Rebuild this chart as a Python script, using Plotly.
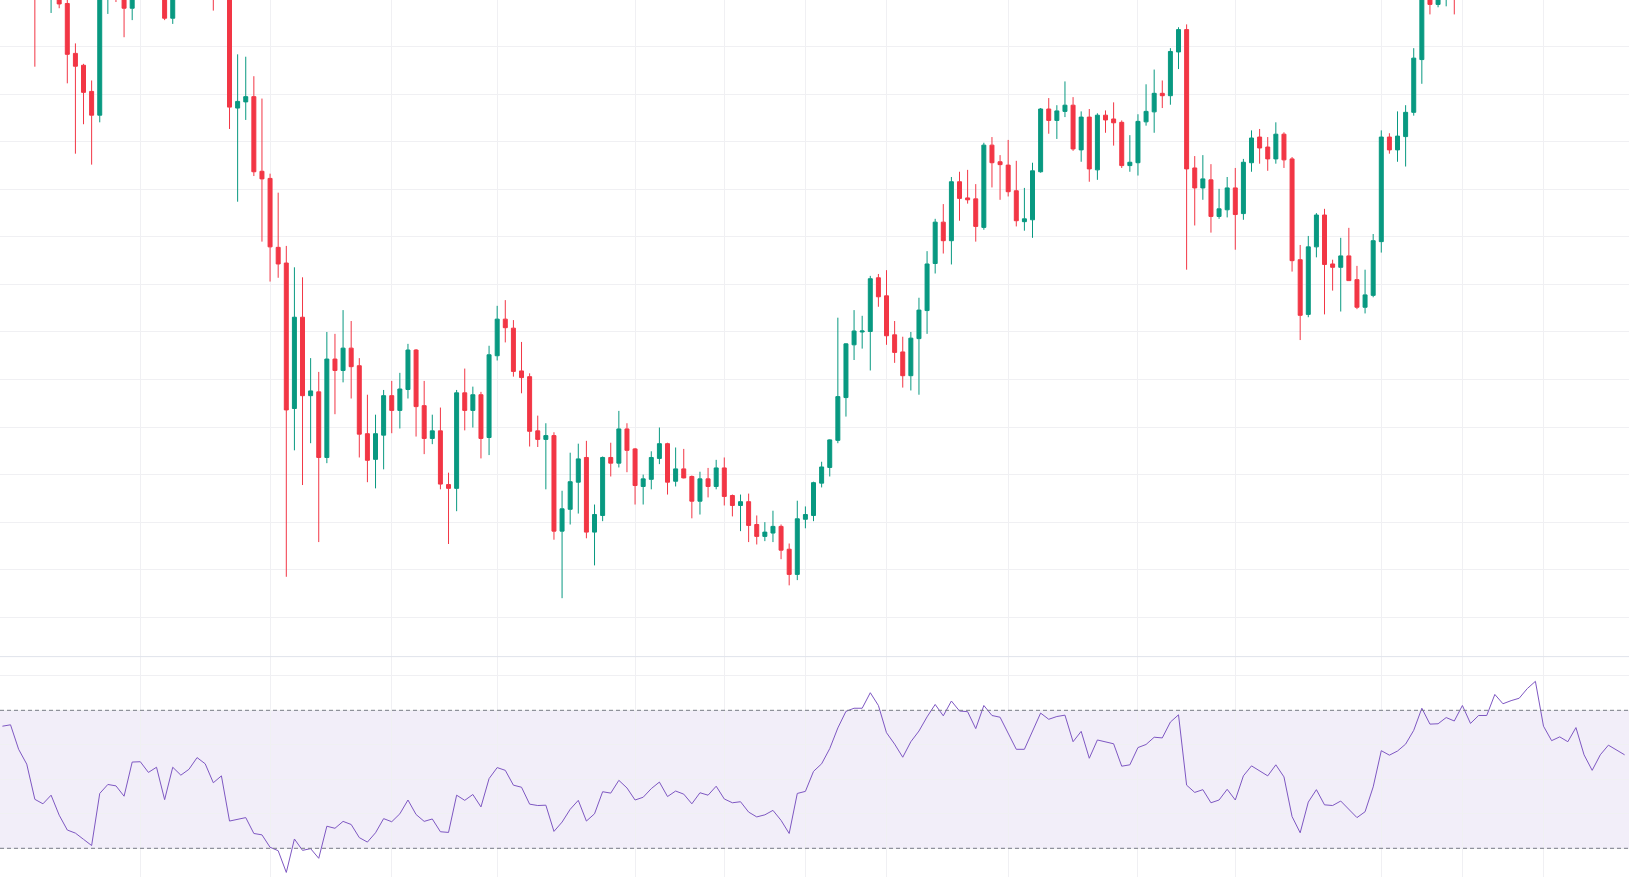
import plotly.graph_objects as go

# ---------------- data (price units, arbitrary scale: one grid step = 10) ----------------
open_ = [
    262, 265, 266, 257, 251, 240, 238, 241, 229.1, 218.6,
    216.1, 210.6, 205.6, 237, 240, 239.5, 228.1, 244, 244.5, 241,
    243, 226.0, 243, 240.5, 242.5, 247.5, 245, 238, 241, 207.1,
    208.4, 209.5, 193.8, 192.3, 177.8, 174.5, 143.9, 163.1, 146.6, 147.4,
    133.6, 154.3, 151.9, 156.6, 152.9, 138.6, 133.2, 138.3, 146.6, 143.5,
    147.9, 156.2, 144.5, 137.6, 139.2, 127.9, 127.1, 147.2, 143.5, 146.8,
    137.8, 155.0, 162.7, 160.8, 151.8, 150.6, 139.2, 137.4, 138.2, 118.1,
    122.7, 128.4, 133.6, 117.9, 121.4, 133.6, 132.4, 139.6, 135.4, 127.5,
    129.0, 133.4, 136.5, 128.6, 131.2, 129.6, 124.4, 129.1, 127.5, 131.4,
    125.6, 123.5, 124.3, 119.5, 117.0, 117.7, 119.1, 114.3, 109.0, 120.6,
    121.4, 128.2, 131.5, 137.2, 146.2, 157.3, 160.0, 160.1, 171.4, 167.6,
    159.4, 155.8, 150.8, 158.6, 164.5, 174.4, 183.1, 179.2, 191.6, 188.2,
    188.0, 182.0, 199.3, 195.8, 195.1, 189.7, 183.2, 183.6, 193.7, 206.9,
    204.5, 206.4, 207.7, 198.3, 205.2, 194.1, 205.6, 204.8, 204.1, 195.0,
    195.6, 204.2, 206.3, 210.2, 209.7, 218.9, 223.6, 194.5, 190.3, 192.0,
    184.3, 185.7, 190.3, 184.9, 195.6, 201.0, 198.9, 196.4, 201.6, 196.4,
    175.2, 163.7, 177.9, 184.6, 174.3, 173.6, 176.0, 171.0, 165.2, 167.7,
    179.0, 201.0, 198.3, 201.1, 206.2, 217.3, 236, 228.9, 231.5, 233.5,
    231.5, 238, 233.5, 236.5, 236.8, 245.5, 242, 244.5, 246, 251.5,
    256.5, 240, 235, 237.5, 235.5, 241.5, 233, 231.5, 237, 240, 238.5,
]

high = [
    268, 269, 267, 259, 253, 243, 246, 243, 231.5, 220.7,
    216.4, 212.9, 239, 242, 241, 241, 246, 247, 245, 245,
    244, 245, 244, 244, 249, 249, 246, 242.5, 242, 218.4,
    217.9, 213.8, 209.1, 193.3, 189.3, 178.1, 173.6, 171.5, 154.5, 151.6,
    160.0, 159.6, 164.6, 162.3, 154.5, 146.8, 142.6, 147.8, 149.7, 151.4,
    157.5, 156.4, 149.7, 142.6, 144.1, 130.4, 147.8, 152.3, 148.5, 147.4,
    157.1, 165.5, 166.7, 162.5, 157.9, 151.3, 142.4, 140.8, 138.9, 126.6,
    134.6, 136.5, 137.1, 123.7, 133.8, 136.7, 143.4, 140.8, 135.6, 130.0,
    134.9, 139.9, 136.7, 135.7, 135.4, 129.8, 130.6, 131.4, 133.1, 133.6,
    125.8, 125.8, 126.0, 121.4, 120.0, 122.4, 119.5, 115.5, 124.5, 123.3,
    128.5, 132.7, 137.4, 163.0, 157.6, 164.6, 163.4, 171.8, 172.2, 173.0,
    162.3, 159.0, 160.0, 167.2, 177.0, 183.8, 186.9, 192.6, 193.7, 194.1,
    191.1, 199.8, 201.0, 197.2, 200.4, 196.0, 190.3, 195.6, 207.1, 209.2,
    207.7, 212.7, 209.4, 206.4, 206.9, 206.0, 206.6, 208.3, 204.5, 201.4,
    205.8, 212.1, 215.2, 212.9, 219.7, 224.1, 224.7, 197.0, 197.2, 195.3,
    190.1, 192.6, 194.5, 196.4, 202.4, 202.7, 201.0, 204.1, 202.0, 196.8,
    178.3, 180.2, 185.0, 185.9, 175.2, 179.8, 181.9, 173.9, 173.1, 180.6,
    202.4, 201.8, 206.4, 207.7, 219.7, 238, 237, 233, 235, 234.5,
    239.5, 239, 237.5, 238, 246.5, 246, 245.5, 247, 252.5, 257.5,
    257, 242, 238.5, 238, 242.5, 242, 234, 238, 241, 240.5, 239.5,
]

low = [
    258, 262, 255, 249, 215.8, 234, 227.1, 228.1, 212.3, 197.5,
    203.7, 195.2, 204.1, 226.9, 229.4, 222.0, 225.6, 241, 238, 239,
    225.6, 224.8, 237, 239, 241, 243, 227.6, 236, 202.7, 187.4,
    204.6, 192.8, 179.0, 170.6, 171.4, 108.5, 135.1, 127.8, 136.6, 115.8,
    132.4, 142.7, 149.4, 146.0, 133.6, 128.4, 127.1, 131.1, 138.7, 139.7,
    146.0, 138.0, 134.3, 136.4, 126.9, 115.4, 122.3, 139.3, 139.9, 133.4,
    134.1, 154.0, 157.8, 150.6, 147.1, 135.9, 135.8, 126.9, 116.3, 104.0,
    119.5, 121.8, 116.6, 110.9, 120.2, 129.6, 131.5, 130.5, 123.7, 123.7,
    126.9, 132.2, 125.8, 127.5, 129.2, 120.8, 121.6, 125.2, 126.9, 123.5,
    121.2, 118.1, 115.8, 115.3, 116.0, 115.8, 112.2, 106.7, 107.8, 118.7,
    120.2, 127.3, 129.6, 136.6, 142.2, 154.1, 156.5, 151.9, 165.3, 157.3,
    153.5, 148.3, 147.7, 146.8, 159.6, 172.3, 176.5, 174.2, 183.4, 187.0,
    179.0, 181.5, 190.4, 187.8, 188.5, 182.2, 181.3, 179.8, 193.5, 201.7,
    200.6, 205.2, 198.1, 195.8, 191.6, 192.0, 201.9, 199.2, 194.5, 193.7,
    192.9, 203.4, 201.9, 207.1, 207.8, 215.3, 173.1, 182.4, 187.8, 180.9,
    183.8, 184.1, 177.3, 183.6, 193.7, 195.4, 193.9, 195.4, 194.5, 172.7,
    158.3, 163.1, 175.7, 163.7, 168.7, 164.3, 170.8, 164.8, 163.9, 167.3,
    176.7, 197.5, 195.8, 194.8, 205.5, 212.2, 226.8, 228.3, 228.5, 226.8,
    231, 232, 232.5, 234.5, 236, 240.5, 241, 243, 245, 250.5,
    238, 233.5, 234, 234, 235, 232, 231, 231.2, 236, 237.5, 236,
]

close = [
    265, 266, 257, 251, 240, 238, 241, 229.0, 218.4, 215.9,
    210.4, 205.6, 237, 240, 239.5, 228.1, 244, 244.5, 241, 243,
    226.0, 243, 240.5, 242.5, 247.5, 245, 238, 241, 207.3, 208.5,
    209.5, 193.7, 192.2, 177.9, 174.3, 143.6, 163.1, 146.6, 147.6, 133.6,
    154.3, 151.9, 156.6, 152.7, 138.5, 133.0, 138.6, 146.6, 143.5, 148.0,
    156.2, 144.3, 137.6, 139.2, 128.0, 127.1, 147.2, 143.5, 146.8, 137.6,
    155.2, 162.7, 160.9, 151.7, 150.4, 139.1, 137.4, 138.2, 118.1, 122.8,
    128.5, 133.3, 117.9, 121.6, 133.6, 132.4, 139.6, 135.1, 127.7, 129.1,
    133.6, 136.5, 128.4, 131.2, 129.3, 124.4, 129.1, 127.5, 131.4, 125.4,
    123.5, 124.3, 119.3, 117.0, 117.9, 119.1, 114.1, 109.0, 120.7, 121.6,
    128.3, 131.6, 137.3, 146.4, 157.5, 160.2, 160.2, 171.2, 167.4, 159.2,
    155.7, 150.8, 158.7, 164.6, 174.3, 183.1, 179.2, 191.6, 188.1, 187.8,
    182.2, 199.3, 195.6, 195.2, 189.5, 183.4, 183.8, 193.9, 206.9, 204.5,
    206.5, 207.7, 198.5, 205.2, 194.3, 205.6, 204.6, 204.0, 195.0, 195.7,
    204.3, 206.4, 210.2, 209.7, 219.0, 223.6, 194.3, 190.3, 192.2, 184.3,
    185.9, 190.3, 184.7, 195.7, 200.8, 198.7, 196.4, 201.6, 196.2, 175.0,
    163.5, 177.9, 184.6, 174.2, 173.6, 176.0, 170.8, 165.2, 167.8, 179.2,
    201.0, 198.3, 201.2, 206.2, 217.6, 236, 228.9, 231.5, 233.5, 231.5,
    238, 233.5, 236.5, 236.8, 245.5, 242, 244.5, 246, 251.5, 256.5,
    240, 235, 237.5, 235.5, 241.5, 233, 231.5, 237, 240, 238.5, 237,
]

rsi = [
    65.4, 65.8, 58.7, 54.4, 44.2, 42.9, 45.4, 39.6, 35.3, 34.4,
    32.6, 30.8, 45.9, 48.5, 48.1, 45.1, 55.0, 55.1, 52.0, 53.5,
    44.1, 53.5, 51.2, 52.9, 56.3, 54.5, 49.0, 51.0, 37.9, 38.4,
    38.9, 34.3, 33.9, 30.3, 29.3, 23.0, 32.7, 29.4, 29.9, 27.1,
    36.4, 35.8, 37.8, 36.9, 33.1, 31.8, 34.5, 38.6, 37.7, 40.0,
    44.0, 39.8, 37.8, 38.5, 34.8, 34.6, 45.4, 43.9, 45.6, 42.0,
    50.2, 53.4, 52.6, 48.3, 47.7, 42.8, 42.4, 42.5, 34.9, 37.6,
    41.3, 43.9, 37.9, 40.0, 46.4, 46.0, 49.7, 47.5, 44.0, 44.8,
    47.3, 49.2, 45.0, 46.6, 45.7, 42.9, 46.1, 45.4, 48.0, 44.3,
    43.2, 43.5, 40.5, 39.1, 39.7, 41.0, 38.1, 34.3, 45.9, 46.5,
    52.3, 54.5, 58.9, 64.9, 69.7, 70.6, 70.6, 75.1, 71.4, 63.5,
    60.2, 56.4, 60.9, 64.0, 68.1, 71.7, 68.4, 72.7, 69.8, 69.6,
    64.7, 71.4, 68.5, 68.0, 63.3, 58.7, 58.7, 64.1, 69.2, 67.4,
    68.2, 68.6, 60.9, 63.9, 56.1, 61.4, 60.9, 60.3, 53.8, 54.2,
    59.2, 60.1, 62.2, 62.0, 66.6, 68.7, 48.3, 46.2, 47.0, 43.2,
    44.0, 47.1, 44.0, 51.0, 53.9, 52.4, 51.0, 54.2, 50.7, 39.2,
    34.5, 43.4, 47.0, 42.6, 42.4, 43.7, 41.4, 38.9, 40.6, 47.8,
    58.3, 57.0, 58.2, 60.2, 64.2, 70.6, 66.0, 66.1, 67.9, 66.9,
    71.4, 66.2, 68.5, 68.5, 74.6, 71.9, 72.8, 73.5, 76.3, 78.4,
    65.4, 61.2, 62.3, 60.9, 65.0, 57.1, 52.6, 57.1, 59.9, 58.6, 57.1,
]

# bar indices where the time-scale grid lines fall
time_grid = [17, 33, 48, 61, 78, 89, 99, 109, 124, 140, 152, 170, 180, 190]
rsi_grid = [30, 40, 50, 60, 70, 80]
rsi_upper, rsi_lower = 70, 30

# ---------------- styling ----------------
UP = "#089981"
DOWN = "#F23645"
GRID = "#F0F0F3"
RSI_COLOR = "#7E57C2"

W, H = 1629, 877
split = 0.2513  # fraction of height for RSI pane

bars = list(range(len(close)))

fig = go.Figure()
fig.add_trace(go.Candlestick(
    x=bars, open=open_, high=high, low=low, close=close,
    increasing=dict(line=dict(color=UP, width=1), fillcolor=UP),
    decreasing=dict(line=dict(color=DOWN, width=1), fillcolor=DOWN),
    whiskerwidth=0, xaxis="x", yaxis="y", showlegend=False, hoverinfo="skip",
))
fig.add_trace(go.Scatter(
    x=bars, y=rsi, mode="lines", line=dict(color=RSI_COLOR, width=1),
    xaxis="x2", yaxis="y2", showlegend=False, hoverinfo="skip",
))

xcommon = dict(
    range=[-0.297, 200.54], showticklabels=False, tickmode="array", tickvals=time_grid,
    showgrid=True, gridcolor=GRID, gridwidth=1, zeroline=False, showline=False, ticks="",
    fixedrange=True,
)

fig.update_layout(
    width=W, height=H,
    margin=dict(l=0, r=0, t=0, b=0),
    paper_bgcolor="white", plot_bgcolor="white",
    showlegend=False, hovermode=False,
    boxgap=0.3,
    xaxis=dict(domain=[0, 1], anchor="y", rangeslider=dict(visible=False), **xcommon),
    xaxis2=dict(domain=[0, 1], anchor="y2", matches="x", **xcommon),
    yaxis=dict(domain=[split, 1], range=[91.71, 229.83], tick0=100, dtick=10,
               showticklabels=False, showgrid=True, gridcolor=GRID, zeroline=False,
               showline=False, ticks="", fixedrange=True),
    yaxis2=dict(domain=[0, split], range=[21.68, 85.57], tickmode="array", tickvals=rsi_grid,
                showticklabels=False, showgrid=True, gridcolor=GRID, zeroline=False,
                showline=False, ticks="", fixedrange=True),
    shapes=[
        dict(type="rect", xref="paper", x0=0, x1=1, yref="y2", y0=rsi_lower, y1=rsi_upper,
             fillcolor="rgba(126,87,194,0.1)", line=dict(width=0), layer="below"),
        dict(type="line", xref="paper", x0=0, x1=1, yref="y2", y0=rsi_upper, y1=rsi_upper,
             line=dict(color="#787B86", width=1, dash="4px,3px")),
        dict(type="line", xref="paper", x0=0, x1=1, yref="y2", y0=rsi_lower, y1=rsi_lower,
             line=dict(color="#787B86", width=1, dash="4px,3px")),
        dict(type="line", xref="paper", x0=0, x1=1, yref="paper", y0=split, y1=split,
             line=dict(color="#E0E3EB", width=1)),
    ],
)

fig.write_html("out.html", config={"displayModeBar": False})
